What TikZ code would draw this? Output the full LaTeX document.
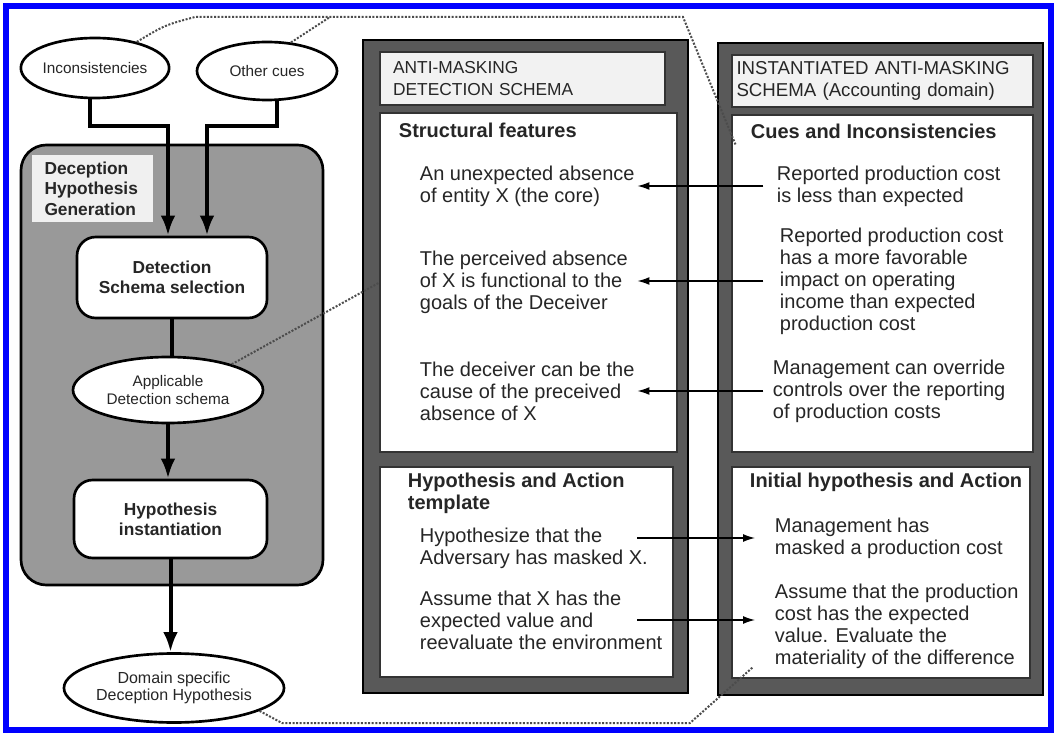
\documentclass[tikz,border=0pt]{standalone}
\usepackage{fontspec}
\setmainfont{Liberation Sans}
\usetikzlibrary{shapes.geometric,arrows.meta}

\begin{document}
\begin{tikzpicture} [
      x = 0.75pt, y = -0.75pt,
      every node/.style = { text = black!85 },
      cue/.style = { draw, ellipse, line width = 2pt, fill = white, inner sep = 0pt, align = center, font = \fontsize{11.5}{14}\selectfont },
      procbox/.style = { draw, rectangle, rounded corners = 14pt, line width = 2pt, fill = white, inner sep = 0pt, align = center, font = \bfseries\fontsize{13}{15}\selectfont },
      flow/.style = { line width = 3pt, -{Latex[length=15pt, width=11pt]} },
      panel/.style = { draw = black, line width = 2pt, fill = black!65, inner sep = 0pt },
      sect/.style = { draw = black!80, line width = 0.8pt, fill = white, inner sep = 0pt },
      heading/.style = { anchor = west, inner sep = 2pt, align = left, font = \bfseries\fontsize{15}{16.5}\selectfont },
      body/.style = { anchor = west, inner sep = 2pt, align = left, font = \fontsize{15}{16.5}\selectfont },
      link/.style = { line width = 1.5pt, black!70, dash pattern = on 1.5pt off 1.2pt },
      mapping/.style = { line width = 1pt, -{Latex[length=9pt, width=6pt]} }
      ]

  \useasboundingbox (0,0) rectangle (1057,734);
  \fill[white] (0,0) rectangle (1057,734);
  \draw[blue, line width = 4.5pt] (6,6) rectangle (1051,730);

  % left column
  \node [cue, minimum width = 108pt, minimum height = 45pt] (inc) at (95,68) {Inconsistencies};
  \node [cue, minimum width = 105pt, minimum height = 43.5pt] (oth) at (267,71) {Other cues};

  \node [draw, line width = 2pt, fill = black!40, rounded corners = 19pt, minimum width = 226.5pt, minimum height = 330pt] (gen) at (172,365) {};
  \node [fill = black!6, inner sep = 0pt, minimum width = 90.75pt, minimum height = 50.25pt, text width = 72pt, align = left, font = \bfseries\fontsize{13}{15.5}\selectfont] (genlabel) at (92.5,188.5) {Deception\\Hypothesis\\Generation};

  \node [procbox, minimum width = 142.5pt, minimum height = 60.75pt] (det) at (172,277.5) {Detection\\Schema selection};
  \node [cue, minimum width = 142.5pt, minimum height = 49.5pt] (app) at (168,390) {Applicable\\Detection schema};
  \node [procbox, minimum width = 144.75pt, minimum height = 58.5pt] (hyp) at (170.5,519) {Hypothesis\\instantiation};
  \node [cue, minimum width = 146.25pt, minimum height = 51.75pt, font = \fontsize{12}{13}\selectfont] (dom) at (174,688) {Domain specific\\Deception Hypothesis};

  \draw[flow] ([xshift = -3.75pt]inc.south) -- ++(0,27) -| ([xshift = -3pt]det.north);
  \draw[flow] ([xshift = 7.5pt]oth.south) -- ++(0,25) -| ([xshift = 26.25pt]det.north);
  \draw[line width = 3pt] (det.south) -- (det.south |- app.north);
  \draw[flow] (app.south) -- (app.south |- hyp.north);
  \draw[flow] (hyp.south) -- (hyp.south |- dom.north);

  % detection schema
  \node [panel, minimum width = 243.75pt, minimum height = 489.75pt] (schema) at (525.5,366.5) {};
  \node [sect, fill = black!5, minimum width = 213.75pt, minimum height = 39.75pt, text width = 194pt, align = left, font = \fontsize{13}{16.5}\selectfont] (schemaT) at (522.5,78.5) {ANTI-MASKING\\DETECTION SCHEMA};
  \node [sect, minimum width = 222.75pt, minimum height = 254.25pt] (feat) at (528.5,282.5) {};
  \node [sect, minimum width = 219.75pt, minimum height = 157.5pt] (tmpl) at (526.5,572) {};

  \node [heading] (featH) at (396,130) {Structural features};
  \node [body] (lA) at (417,186) {An unexpected absence\\of entity X (the core)};
  \node [body] (lB) at (417,282) {The perceived absence\\of X is functional to the\\goals of the Deceiver};
  \node [body] (lC) at (417,391) {The deceiver can be the\\cause of the preceived\\absence of X};
  \node [heading] (tmplH) at (405,493) {Hypothesis and Action\\template};
  \node [body] (lH) at (417,548.5) {Hypothesize that the\\Adversary has masked X.};
  \node [body] (lX) at (417,620) {Assume that X has the\\expected value and\\reevaluate the environment};

  % instantiated schema
  \node [panel, minimum width = 243.75pt, minimum height = 489pt] (inst) at (880.5,369) {};
  \node [sect, fill = black!5, minimum width = 225.75pt, minimum height = 39pt, text width = 219pt, align = left, font = \fontsize{14}{17}\selectfont] (instT) at (882.5,81) {INSTANTIATED ANTI-MASKING\\SCHEMA (Accounting domain)};
  \node [sect, minimum width = 225.75pt, minimum height = 252.75pt] (cues) at (882.5,283.5) {};
  \node [sect, minimum width = 223.5pt, minimum height = 158.25pt] (init) at (881,572.5) {};

  \node [heading] (cuesH) at (748,131) {Cues and Inconsistencies};
  \node [body] (rA) at (774,186) {Reported production cost\\is less than expected};
  \node [body] (rB) at (777,281) {Reported production cost\\has a more favorable\\impact on operating\\income than expected\\production cost};
  \node [body] (rC) at (770,391) {Management can override\\controls over the reporting\\of production costs};
  \node [heading] (initH) at (747,482) {Initial hypothesis and Action};
  \node [body] (rH) at (772,538) {Management has\\masked a production cost};
  \node [body] (rX) at (772,626) {Assume that the production\\cost has the expected\\value. Evaluate the\\materiality of the difference};

  % mappings
  \coordinate (lcol) at (lA.east);
  \coordinate (rcol) at ([xshift = -5pt]rC.west);
  \coordinate (rtip) at ([xshift = -12.75pt]rH.west);
  \draw[mapping] (rA.west -| rcol) -- (rA.west -| lcol);
  \draw[mapping] (rB.west -| rcol) -- (rB.west -| lcol);
  \draw[mapping] (rC.west -| rcol) -- (rC.west -| lcol);
  \draw[mapping] (rH.west -| lcol) -- (rH.west -| rtip);
  \draw[mapping] (lX.east -| lcol) -- (lX.east -| rtip);

  % dotted links
  \coordinate (topL) at (195,17);
  \coordinate (topJ) at (330,17);
  \coordinate (topR) at (683,17);
  \coordinate (botL) at (282,723);
  \coordinate (botR) at (690,723);
  \draw[link] (inc.32) .. controls (165,25) .. (topL) -- (topR) -- ([shift = {(4,30)}]cues.north west);
  \draw[link] (oth.50) -- (topJ);
  \draw[link] (app.22) -- (feat.west);
  \draw[link] (dom.-15) -- (botL) -- (botR) -- ([shift = {(21,-11)}]init.south west);
\end{tikzpicture}
\end{document}
